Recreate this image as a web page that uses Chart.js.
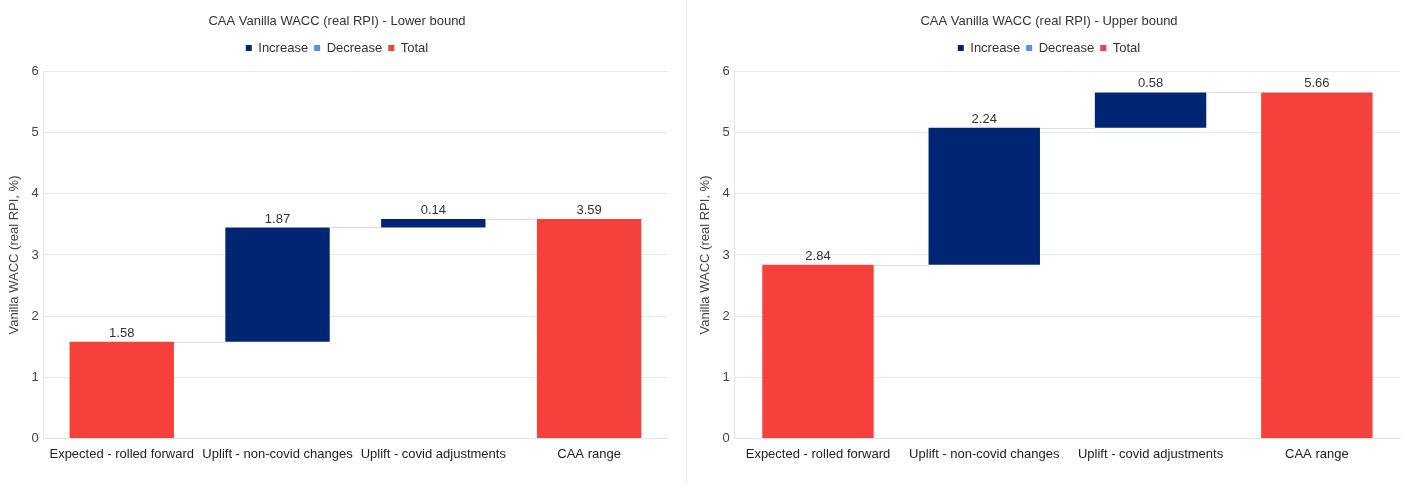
<!DOCTYPE html>
<html>
<head>
<meta charset="utf-8">
<script src="https://cdn.jsdelivr.net/npm/chart.js@4/dist/chart.umd.min.js"></script>
<style>
html,body{margin:0;padding:0;background:#fff;}
#wrap{position:relative;width:1403px;height:485px;overflow:hidden;}
.box{position:absolute;top:0;height:485px;}
#b1{left:0;width:682px;}
#b2{left:691px;width:712px;}
#divider{position:absolute;left:686px;top:0;width:1px;height:485px;background:#eeeeee;}
</style>
</head>
<body>
<div id="wrap">
  <div class="box" id="b1"><canvas id="c1"></canvas></div>
  <div id="divider"></div>
  <div class="box" id="b2"><canvas id="c2"></canvas></div>
</div>
<script>
const categories = ['Expected - rolled forward', 'Uplift - non-covid changes', 'Uplift - covid adjustments', 'CAA range'];
const stepTypes = ['total', 'increase', 'increase', 'total'];
const lowerValues = [1.58, 1.87, 0.14, 3.59];
const upperValues = [2.84, 2.24, 0.58, 5.66];
const yTicks = [0, 1, 2, 3, 4, 5, 6];
const titles = ['CAA Vanilla WACC (real RPI) - Lower bound', 'CAA Vanilla WACC (real RPI) - Upper bound'];
const yTitle = 'Vanilla WACC (real RPI, %)';

const COL_INC = '#002673';
const COL_DEC = '#5b8def';
const COL_TOT = '#f5403b';
const FONT = 'Liberation Sans, Arial, sans-serif';

function buildRanges(values, types) {
  let run = 0;
  const inc = [], dec = [], tot = [];
  values.forEach((v, i) => {
    const t = types[i];
    if (t === 'total') {
      tot.push([0, v]); inc.push(null); dec.push(null); run = v;
    } else if (t === 'increase') {
      inc.push([run, run + v]); tot.push(null); dec.push(null); run = run + v;
    } else {
      dec.push([run - v, run]); tot.push(null); inc.push(null); run = run - v;
    }
  });
  return {inc, dec, tot};
}

const legendGapPlugin = {
  id: 'legendGap',
  beforeInit(chart) {
    const legend = chart.legend;
    if (!legend) return;
    const origFit = legend.fit;
    legend.fit = function () {
      origFit.bind(legend)();
      this.height += 7;
    };
  }
};

const waterfallPlugin = {
  id: 'waterfall',
  afterDatasetsDraw(chart, args, opts) {
    const ctx = chart.ctx;
    const values = opts.values;
    const types = opts.types;
    const yScale = chart.scales.y;
    const bars = [];
    chart.data.datasets.forEach((ds, di) => {
      const meta = chart.getDatasetMeta(di);
      ds.data.forEach((d, i) => {
        if (d) bars[i] = {el: meta.data[i], range: d};
      });
    });
    ctx.save();
    ctx.strokeStyle = '#dddddd';
    ctx.lineWidth = 1;
    for (let i = 0; i < bars.length - 1; i++) {
      const a = bars[i], b = bars[i + 1];
      if (!a || !b) continue;
      const endVal = types[i] === 'decrease' ? a.range[0] : a.range[1];
      const y = Math.round(yScale.getPixelForValue(endVal)) + 0.5;
      const x1 = a.el.x + a.el.width / 2;
      const x2 = b.el.x - b.el.width / 2;
      ctx.beginPath(); ctx.moveTo(x1, y); ctx.lineTo(x2, y); ctx.stroke();
    }
    ctx.fillStyle = '#333333';
    ctx.font = '13px ' + FONT;
    ctx.textAlign = 'center';
    ctx.textBaseline = 'bottom';
    bars.forEach((b, i) => {
      if (!b) return;
      const top = yScale.getPixelForValue(Math.max(b.range[0], b.range[1]));
      ctx.fillText(values[i].toFixed(2), b.el.x, top - 2);
    });
    ctx.restore();
  }
};

function makeChart(id, values, title, padRight) {
  const r = buildRanges(values, stepTypes);
  const common = {categoryPercentage: 1, barPercentage: 0.67, grouped: false, borderWidth: 0};
  return new Chart(document.getElementById(id), {
    type: 'bar',
    data: {
      labels: categories,
      datasets: [
        Object.assign({label: 'Increase', data: r.inc, backgroundColor: COL_INC}, common),
        Object.assign({label: 'Decrease', data: r.dec, backgroundColor: COL_DEC}, common),
        Object.assign({label: 'Total', data: r.tot, backgroundColor: COL_TOT}, common)
      ]
    },
    options: {
      responsive: true,
      maintainAspectRatio: false,
      animation: false,
      layout: {padding: {top: 8, right: padRight, left: 7, bottom: 23}},
      plugins: {
        title: {display: true, text: title, color: '#333', font: {family: FONT, size: 13, weight: 'normal'}, padding: {top: 6, bottom: 6}},
        legend: {
          display: true,
          labels: {boxWidth: 6, boxHeight: 6, color: '#333', padding: 6, font: {family: FONT, size: 13}}
        },
        tooltip: {enabled: false},
        waterfall: {values: values, types: stepTypes}
      },
      scales: {
        x: {
          grid: {display: false},
          border: {display: true, color: '#e6e6e6'},
          ticks: {color: '#222', font: {family: FONT, size: 13}, maxRotation: 0, autoSkip: false, padding: 0}
        },
        y: {
          min: 0, max: 6,
          afterBuildTicks(axis) { axis.ticks = yTicks.map(v => ({value: v})); },
          grid: {color: '#e8e8e8', drawTicks: false},
          border: {display: true, color: '#e6e6e6'},
          ticks: {color: '#444', font: {family: FONT, size: 13}, padding: 5},
          title: {display: true, text: yTitle, color: '#444', font: {family: FONT, size: 13}, padding: {top: 0, bottom: 4}}
        }
      }
    },
    plugins: [legendGapPlugin, waterfallPlugin]
  });
}

makeChart('c1', lowerValues, titles[0], 15);
makeChart('c2', upperValues, titles[1], 3);
</script>
</body>
</html>
